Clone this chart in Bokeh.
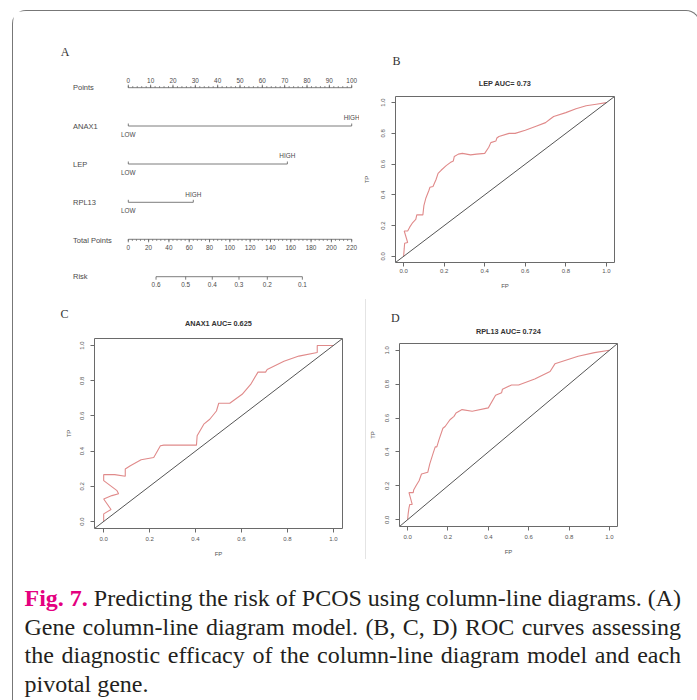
from bokeh.plotting import figure
from bokeh.layouts import column, row
from bokeh.models import Div, Title, Slope, FixedTicker, PrintfTickFormatter, Range1d
from bokeh.core.properties import value
from bokeh.embed import file_html
from bokeh.resources import INLINE

# ---------------- data ----------------
points_major = [0, 10, 20, 30, 40, 50, 60, 70, 80, 90, 100]
points_minor = list(range(0, 101, 2))
var_names = ["ANAX1", "LEP", "RPL13"]
var_high_points = [100, 71.2, 29.1]
total_major = [0, 20, 40, 60, 80, 100, 120, 140, 160, 180, 200, 220]
total_minor = list(range(0, 221, 4))
risk_values = [0.6, 0.5, 0.4, 0.3, 0.2, 0.1]
risk_total_points = [27.3, 56.5, 82.7, 109.0, 136.9, 171.4]

roc_ticks = [0.0, 0.2, 0.4, 0.6, 0.8, 1.0]

fp_lep = [0, 0.003, 0.005, 0.02, 0.003, 0.02, 0.03, 0.045, 0.06, 0.065, 0.095, 0.1, 0.11, 0.125,
          0.13, 0.145, 0.16, 0.17, 0.185, 0.21, 0.23, 0.245, 0.25, 0.27, 0.29, 0.33, 0.36, 0.40,
          0.42, 0.43, 0.455, 0.46, 0.47, 0.52, 0.55, 0.6, 0.65, 0.7, 0.72, 0.74, 0.8, 0.85, 0.9,
          0.95, 1.0]
tp_lep = [0, 0.05, 0.085, 0.09, 0.165, 0.165, 0.19, 0.22, 0.24, 0.27, 0.27, 0.33, 0.38, 0.43,
          0.45, 0.455, 0.5, 0.54, 0.56, 0.59, 0.61, 0.62, 0.65, 0.665, 0.67, 0.66, 0.665, 0.67,
          0.71, 0.74, 0.75, 0.77, 0.78, 0.80, 0.80, 0.82, 0.845, 0.87, 0.89, 0.91, 0.935, 0.96,
          0.98, 0.99, 1.0]

fp_anax1 = [0, 0, 0.032, 0, 0.036, 0.065, 0.058, 0, 0, 0.048, 0.094, 0.094, 0.116, 0.163, 0.218,
            0.247, 0.262, 0.404, 0.407, 0.436, 0.462, 0.491, 0.501, 0.549, 0.603, 0.64, 0.672,
            0.705, 0.712, 0.785, 0.85, 0.93, 0.93, 1.0]
tp_anax1 = [0, 0.043, 0.068, 0.128, 0.147, 0.157, 0.175, 0.232, 0.266, 0.266, 0.257, 0.298, 0.317,
            0.351, 0.364, 0.43, 0.434, 0.434, 0.487, 0.553, 0.581, 0.628, 0.672, 0.672, 0.723,
            0.779, 0.849, 0.849, 0.864, 0.911, 0.94, 0.96, 1.0, 1.0]

fp_rpl13 = [0, 0.003, 0.007, 0.011, 0.023, 0.007, 0.028, 0.03, 0.044, 0.057, 0.069, 0.1, 0.11,
            0.126, 0.137, 0.145, 0.155, 0.175, 0.186, 0.21, 0.23, 0.24, 0.27, 0.32, 0.40, 0.436,
            0.466, 0.47, 0.515, 0.55, 0.63, 0.706, 0.73, 0.845, 0.926, 1.0]
tp_rpl13 = [0, 0.036, 0.07, 0.09, 0.09, 0.16, 0.16, 0.175, 0.205, 0.23, 0.27, 0.28, 0.33, 0.39,
            0.43, 0.43, 0.47, 0.54, 0.55, 0.59, 0.61, 0.63, 0.65, 0.64, 0.66, 0.735, 0.75, 0.77,
            0.795, 0.795, 0.83, 0.875, 0.92, 0.965, 0.986, 1.0]

# ---------------- styles ----------------
SANS = "Liberation Sans"
SERIF = "Liberation Serif"
TXT = "#4a4a4a"
LN = "#5c5c5c"

# ---------------- panel A: nomogram ----------------
A_LEFT, A_TOP, A_W, A_H = 13.5, 11.5, 346, 288
PX_PER_PT, X0 = 2.234, 128.3
pA = figure(width=A_W, height=A_H,
            x_range=Range1d((A_LEFT - X0) / PX_PER_PT, (A_LEFT + A_W - X0) / PX_PER_PT),
            y_range=Range1d(A_TOP + A_H, A_TOP),
            x_axis_location=None, y_axis_location=None,
            output_backend="svg", toolbar_location=None, min_border=0)
pA.grid.visible = False
pA.outline_line_color = None
LABEL_X = (73 - X0) / PX_PER_PT


def txt(p, xs, ys, texts, size, align="center", font=SANS, color=TXT, style="normal"):
    p.text(x=xs, y=ys, text=texts, text_font=value(font), text_font_size=value(size),
           text_align=align, text_baseline="middle", text_color=color, text_font_style=style)


# Points row
yP = 87.7
pA.segment(x0=[points_major[0]], y0=[yP], x1=[points_major[-1]], y1=[yP], line_color=LN, line_width=0.8)
pA.segment(x0=points_minor, y0=[yP] * len(points_minor), x1=points_minor,
           y1=[yP - 1.6] * len(points_minor), line_color=LN, line_width=0.7)
pA.segment(x0=points_major, y0=[yP] * len(points_major), x1=points_major,
           y1=[yP - 3] * len(points_major), line_color=LN, line_width=0.8)
txt(pA, points_major, [yP - 7] * len(points_major), [str(v) for v in points_major], "6.4px")

# variable rows
row_y = [126.0, 164.0, 202.3]
for name, hi, yy in zip(var_names, var_high_points, row_y):
    pA.segment(x0=[0], y0=[yy], x1=[hi], y1=[yy], line_color=LN, line_width=0.8)
    pA.segment(x0=[0, hi], y0=[yy, yy], x1=[0, hi], y1=[yy - 2.5, yy - 2.5], line_color=LN, line_width=0.8)
    txt(pA, [hi], [yy - 8.3], ["HIGH"], "6.4px")
    txt(pA, [0], [yy + 8], ["LOW"], "6.4px")

# Total points row
yT = 239.3
scale_tp = points_major[-1] / total_major[-1]
tmaj = [t * scale_tp for t in total_major]
tmin = [t * scale_tp for t in total_minor]
pA.segment(x0=[tmaj[0]], y0=[yT], x1=[tmaj[-1]], y1=[yT], line_color=LN, line_width=0.8)
pA.segment(x0=tmin, y0=[yT] * len(tmin), x1=tmin, y1=[yT + 1.6] * len(tmin), line_color=LN, line_width=0.7)
pA.segment(x0=tmaj, y0=[yT] * len(tmaj), x1=tmaj, y1=[yT + 3] * len(tmaj), line_color=LN, line_width=0.8)
txt(pA, tmaj, [yT + 8] * len(tmaj), [str(v) for v in total_major], "6.4px")

# Risk row
yR = 276.7
rx = [t * scale_tp for t in risk_total_points]
pA.segment(x0=[min(rx)], y0=[yR], x1=[max(rx)], y1=[yR], line_color=LN, line_width=0.8)
pA.segment(x0=rx, y0=[yR] * len(rx), x1=rx, y1=[yR + 3] * len(rx), line_color=LN, line_width=0.8)
txt(pA, rx, [yR + 7.6] * len(rx), [f"{v:.1f}" for v in risk_values], "6.4px")

# row labels
row_labels = ["Points"] + var_names + ["Total Points", "Risk"]
row_label_y = [yP] + row_y + [yT + 0.7, yR]
txt(pA, [LABEL_X] * len(row_labels), row_label_y, row_labels, "7.5px", align="left")
txt(pA, [(65 - X0) / PX_PER_PT], [52], ["A"], "12px", font=SERIF, color="#333333")


# ---------------- ROC panels ----------------
def roc_panel(W, H, ml, mr, mt, mb, fp, tp, title, letter, letter_dx, title_so, letter_so,
              y_so, y_als, x_so, x_als, styles=None):
    kw = {}
    if styles:
        kw["styles"] = styles
    p = figure(width=W, height=H, x_range=Range1d(-0.04, 1.04), y_range=Range1d(-0.04, 1.04),
               output_backend="svg", toolbar_location=None,
               min_border_left=ml, min_border_right=mr, min_border_top=mt, min_border_bottom=mb, **kw)
    p.grid.visible = False
    p.outline_line_color = "#6a6a6a"
    p.outline_line_width = 1
    for ax in (p.xaxis[0], p.yaxis[0]):
        ax.ticker = FixedTicker(ticks=roc_ticks)
        ax.formatter = PrintfTickFormatter(format="%.1f")
        ax.axis_line_color = None
        ax.major_tick_line_color = "#6a6a6a"
        ax.major_tick_out = 4
        ax.major_tick_in = 0
        ax.minor_tick_line_color = None
        ax.major_label_text_font = SANS
        ax.major_label_text_font_size = "6px"
        ax.major_label_text_color = "#555555"
        ax.axis_label_text_font = SANS
        ax.axis_label_text_font_size = "6px"
        ax.axis_label_text_font_style = "normal"
        ax.axis_label_text_color = "#555555"
    p.xaxis.axis_label = "FP"
    p.yaxis.axis_label = "TP"
    p.yaxis.major_label_orientation = "vertical"
    p.yaxis.major_label_standoff = y_so
    p.yaxis.axis_label_standoff = y_als
    p.xaxis.major_label_standoff = x_so
    p.xaxis.axis_label_standoff = x_als

    p.add_layout(Slope(gradient=1, y_intercept=0, line_color="#555555", line_width=1))
    p.line(fp, tp, line_color="#e08a8a", line_width=1.1)

    # panel letter (outermost) and AUC title (next to the frame)
    p.title = Title(text=letter, align="left", offset=letter_dx, text_font=SERIF,
                    text_font_size="12px", text_font_style="normal", text_color="#333333",
                    standoff=letter_so)
    p.add_layout(Title(text=title, align="center", text_font=SANS, text_font_size="7.3px",
                       text_font_style="bold", text_color="#333333", standoff=title_so), "above")
    return p


pB = roc_panel(330, 288, 36, 75, 85, 37, fp_lep, tp_lep, "LEP AUC= 0.73", "B",
               -3, 18, -1.6, 6, 9, 2, 7)
pC = roc_panel(352, 260, 81, 23, 39, 29, fp_anax1, tp_anax1, "ANAX1 AUC= 0.625", "C",
               -34, 20.6, -28, 6, 6, 4, 7)
pD = roc_panel(324, 260, 32, 73, 44, 33, fp_rpl13, tp_rpl13, "RPL13 AUC= 0.724", "D",
               -8.5, 15.2, -15.4, 6, 7, 4, 7,
               styles={"border-left": "1px solid #e4e4e4"})

# ---------------- caption ----------------
cap_lines = [
    '<span style="color:#e4007f;font-weight:bold">Fig. 7.</span> Predicting the risk of PCOS using column-line diagrams. (A)',
    'Gene column-line diagram model. (B, C, D) ROC curves assessing',
    'the diagnostic efficacy of the column-line diagram model and each',
    'pivotal gene.',
]
line_divs = []
for i, t in enumerate(cap_lines):
    last = "left" if i == len(cap_lines) - 1 else "justify"
    line_divs.append(f'<div style="text-align:justify;text-align-last:{last};">{t}</div>')
cap_html = ('<div style="padding:20px 5px 0 6.5px;font-family:\'Liberation Serif\',\'Times New Roman\',serif;'
            'font-size:24px;line-height:28.5px;color:#231f20;">' + "".join(line_divs) + '</div>')
cap = Div(text=cap_html, width=676, height=134)

layout = column(row(column(pA), column(pB)), row(column(pC), column(pD)), cap,
                margin=(10, 0, 0, 12),
                styles={"border": "1.5px solid #777777", "border-bottom": "none",
                        "border-radius": "14px 14px 0 0"})

open("out.html", "w").write(file_html(layout, INLINE))
